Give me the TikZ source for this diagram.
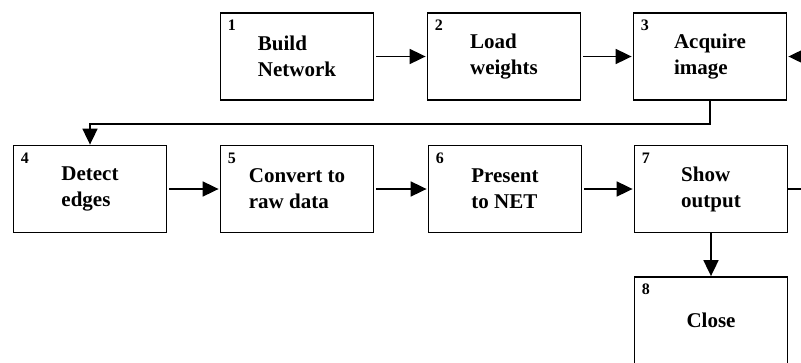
\documentclass[tikz,border=0pt]{standalone}
\usepackage{fontspec}
\setmainfont{Liberation Serif}
\usetikzlibrary{arrows.meta}

\begin{document}
\begin{tikzpicture}[x=1pt, y=-1pt,
    stepbox/.style={draw=black, line width=1.8pt, minimum width=153pt, minimum height=87pt, inner sep=0pt, align=left, font=\fontsize{21}{26}\selectfont\bfseries},
    num/.style={anchor=north west, inner sep=0pt, font=\fontsize{16}{16}\selectfont\bfseries},
    link/.style={black, line width=1.8pt},
    flow/.style={link, shorten <=2pt, shorten >=1pt, -{Triangle[length=16pt, width=15pt]}}]
    \useasboundingbox (0,0) rectangle (801,362);
    \node[stepbox] (b1) at (297,56.5) {Build\\Network};
    \node[stepbox] (b2) at (504,56.5) {Load\\weights};
    \node[stepbox] (b3) at (710,56.5) {Acquire\\image};
    \node[stepbox] (b4) at (90,189) {Detect\\edges};
    \node[stepbox] (b5) at (297,189) {Convert to\\raw data};
    \node[stepbox] (b6) at (505,189) {Present\\to NET};
    \node[stepbox] (b7) at (711,189) {Show\\output};
    \node[stepbox] (b8) at (711,320.5) {Close};
    \foreach \i in {1,...,8}
        \node[num, xshift=8pt, yshift=-8pt] (l\i) at (b\i.north west) {\i};
    \coordinate (e3) at (806,56.5);
    \coordinate (e7) at (806,189);
    \draw[flow] (b1) -- (b2);
    \draw[flow] (b2) -- (b3);
    \draw[flow] (e3) -- (b3.east);
    \draw[link, -{Triangle[length=16pt, width=15pt]}] (b3.south) -- ++(0,23) -| (b4.north);
    \draw[flow] (b4) -- (b5);
    \draw[flow] (b5) -- (b6);
    \draw[flow] (b6) -- (b7);
    \draw[link] (b7.east) -- (e7);
    \draw[link, -{Triangle[length=16pt, width=15pt]}] (b7.south) -- (b8.north);
\end{tikzpicture}
\end{document}
